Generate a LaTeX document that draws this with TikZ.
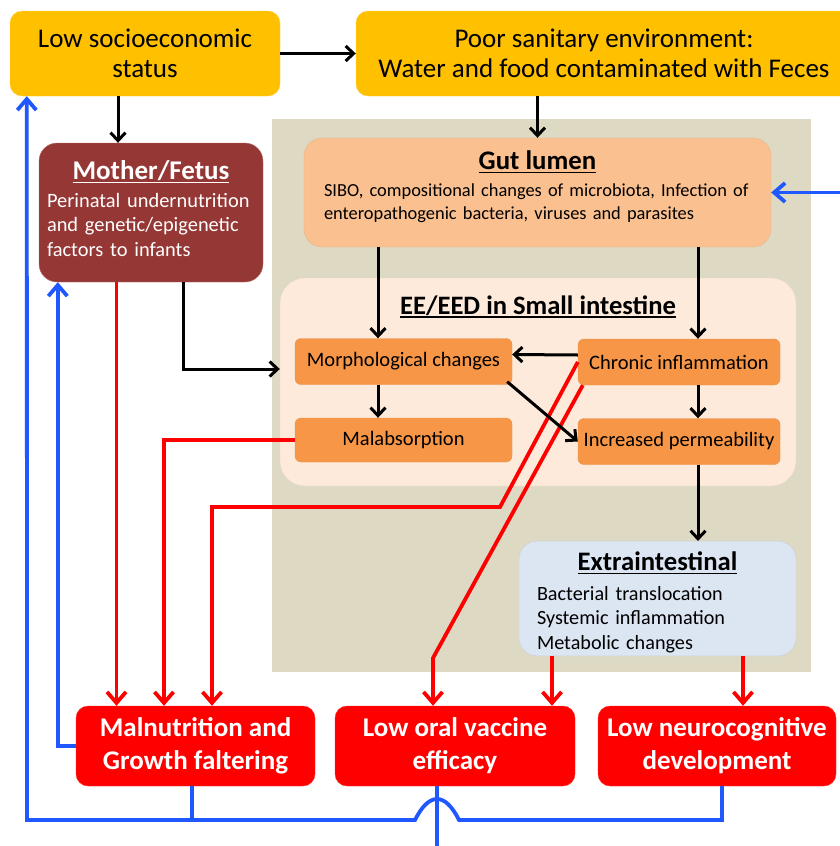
\documentclass[tikz,border=0pt]{standalone}
\usepackage{fontspec}
\setmainfont{Carlito}
\usetikzlibrary{arrows.meta}

\definecolor{gold}{RGB}{255,192,0}
\definecolor{motherred}{RGB}{149,55,53}
\definecolor{khaki}{RGB}{221,217,195}
\definecolor{gutorange}{RGB}{250,192,144}
\definecolor{eepeach}{RGB}{253,234,218}
\definecolor{cellorange}{RGB}{247,150,70}
\definecolor{extrablue}{RGB}{220,230,242}
\definecolor{linkblue}{RGB}{31,88,255}

\newcommand{\headul}[1]{\setbox0\hbox{#1}\rlap{\rule[-3.5pt]{\wd0}{1.4pt}}\box0}

\tikzset{
  causenode/.style = {rectangle, rounded corners=12pt, fill=gold, draw=gold!70!white,
    align=center, minimum height=85pt, font=\fontsize{27}{30}\selectfont},
  motherbox/.style = {rectangle, rounded corners=18pt, fill=motherred,
    draw=motherred!70!white, text=white, align=left, inner sep=8pt,
    text width=208pt, minimum height=139pt, font=\fontsize{20.4}{24.5}\selectfont},
  gutbox/.style = {rectangle, rounded corners=18pt, fill=gutorange,
    draw=gutorange!85!gray, align=left, inner xsep=20pt, text width=427pt,
    minimum height=109pt, font=\fontsize{18.4}{23}\selectfont},
  eebox/.style = {rectangle, rounded corners=25pt, fill=eepeach,
    draw=eepeach!85!gray, minimum width=516pt, minimum height=208pt},
  cellnode/.style = {rectangle, rounded corners=6pt, fill=cellorange,
    draw=cellorange!85!gray, minimum height=46pt, font=\fontsize{20.5}{24}\selectfont},
  extrabox/.style = {rectangle, rounded corners=18pt, fill=extrablue,
    draw=extrablue!80!gray, align=left, inner xsep=18pt, text width=241pt,
    minimum height=111pt, font=\fontsize{20.2}{24.5}\selectfont},
  outnode/.style = {rectangle, rounded corners=12pt, fill=red, draw=red!80!white,
    text=white, align=center, minimum width=239pt, minimum height=80pt,
    font=\fontsize{27}{33}\selectfont\bfseries},
  blk/.style = {line width=3pt},
  redarr/.style = {red, line width=3.8pt, >={Straight Barb[length=11pt,width=19pt]}},
  bluarr/.style = {linkblue, line width=3.8pt, >={Straight Barb[length=11pt,width=19pt]}},
}

\begin{document}
\begin{tikzpicture}[->,>={Straight Barb[length=8pt,width=15pt]},x=1pt,y=-1pt]
  \useasboundingbox (0,0) rectangle (840,846);
  % gut area
  \fill[khaki] (272,119) rectangle (811,672);

  \node[causenode, minimum width=270pt] (lse) at (145,53.5) {Low socioeconomic\\status};
  \node[causenode, minimum width=496pt] (poor) at (604,53.5)
    {Poor sanitary environment:\\Water and food contaminated with Feces};
  \node[motherbox] (mother) at (151,212.5)
    {\makebox[\hsize]{\fontsize{27}{30}\selectfont\bfseries\headul{Mother/Fetus}}\\[3pt]
     Perinatal undernutrition\\and genetic/epigenetic\\factors to infants\par\vspace{8pt}};
  \node[gutbox, text depth=64pt] (gut) at (537.5,192.5)
    {\makebox[\hsize]{\fontsize{26.8}{30}\selectfont\bfseries\headul{Gut lumen}}\\[4pt]
     SIBO, compositional changes of microbiota, Infection of\\
     enteropathogenic bacteria, viruses and parasites};
  \node[eebox, label={[font=\fontsize{26.6}{30}\selectfont\bfseries, anchor=north,
      yshift=-14pt]north:\headul{EE/EED in Small intestine}}] (ee) at (538,382) {};

  \node[cellnode, minimum width=217pt] (morph) at (403.5,361.5) {Morphological changes};
  \node[cellnode, minimum width=202pt] (chronic) at (679,362) {Chronic inflammation};
  \node[cellnode, minimum width=217pt, minimum height=44pt] (malabs) at (403.5,440) {Malabsorption};
  \node[cellnode, minimum width=202pt] (perm) at (679,441.5) {Increased permeability};
  \node[extrabox, text height=26pt] (extra) at (657.5,598.5)
    {\makebox[\hsize]{\fontsize{26.7}{30}\selectfont\bfseries\headul{Extraintestinal}}\\[5pt]
     Bacterial translocation\\Systemic inflammation\\Metabolic changes};

  \node[outnode] (malnut) at (195.5,746) {Malnutrition and\\Growth faltering};
  \node[outnode, minimum width=240pt] (vaccine) at (455,746) {Low oral vaccine\\efficacy};
  \node[outnode, minimum width=238pt] (neuro) at (717,746) {Low neurocognitive\\development};

  % columns of the straight links
  \coordinate (xmum) at (118,0);
  \coordinate (xside) at (183,0);
  \coordinate (xmorph) at (378,0);
  \coordinate (xchron) at (698,0);
  \coordinate (xa) at (116.5,0);
  \coordinate (xb) at (164,0);
  \coordinate (xc) at (212,0);
  \coordinate (xd) at (433,0);
  \coordinate (xe) at (552,0);
  \coordinate (xf) at (743,0);
  \coordinate (xv) at (437,0);
  \coordinate (xn) at (722,0);

  % effects
  \draw[redarr] (mother.south -| xa) -- (malnut.north -| xa);
  \draw[redarr] (malabs.west) -| (malnut.north -| xb);
  \draw[redarr] (chronic.west) -- (500,507) -| (malnut.north -| xc);
  \draw[redarr] ([xshift=5pt]chronic.south west) -- (433,658) -- (vaccine.north -| xd);
  \draw[redarr] (extra.south -| xe) -- (vaccine.north -| xe);
  \draw[redarr] (extra.south -| xf) -- (neuro.north -| xf);

  % causes
  \draw[blk] (lse) -- (poor);
  \draw[blk] (lse.south -| xmum) -- (mother.north -| xmum);
  \draw[blk] (poor.south -| gut.north) -- (gut.north);
  \draw[blk] (mother.south -| xside) |- ([yshift=13pt]ee.west);
  \draw[blk] (gut.south -| xmorph) -- (morph.north -| xmorph);
  \draw[blk] (gut.south -| xchron) -- (chronic.north -| xchron);
  \draw[blk] ([yshift=7pt]chronic.west) -- ([yshift=7pt]morph.east);
  \draw[blk] (morph.south -| xmorph) -- (malabs.north -| xmorph);
  \draw[blk] (chronic.south -| xchron) -- (perm.north -| xchron);
  \draw[blk] ([shift={(-5,-3)}]morph.south east) -- (perm.west);
  \draw[blk] (perm.south -| xchron) -- (extra.north -| xchron);

  % feedback
  \draw[bluarr] (neuro.south -| xn) -- (722,820) -- (459,820)
    .. controls (445,792) and (429,792) .. (415,820) -- (27,820)
    -- ([xshift=17pt]lse.south west);
  \draw[bluarr, -] ([xshift=-3.5pt]malnut.south) -- ++(0,34);
  \draw[bluarr] (malnut.west) -| ([xshift=19pt]mother.south west);
  \draw[bluarr] (vaccine.south -| xv) -- (437,849) -- (852,849) -- (852,192.5) -- (gut.east);
\end{tikzpicture}
\end{document}
